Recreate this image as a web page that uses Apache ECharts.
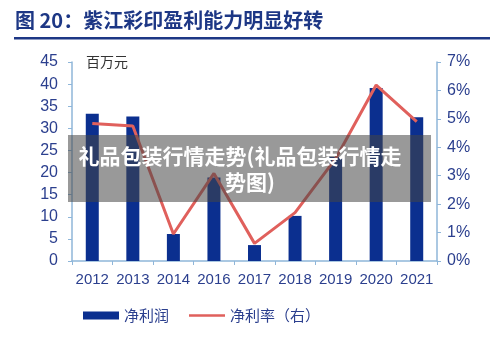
<!DOCTYPE html>
<html><head><meta charset="utf-8">
<script src="https://cdn.jsdelivr.net/npm/echarts@6/dist/echarts.min.js"></script>
<style>html,body{margin:0;padding:0;background:#fff}#c{width:500px;height:337px}</style>
</head><body><div id="c"></div>
<script>
const categories = ['2012','2013','2014','2016','2017','2018','2019','2020','2021'];
const netProfit = [33.3, 32.7, 6.1, 18.9, 3.6, 10.2, 23.5, 39.1, 32.5];
const netMargin = [4.84, 4.75, 0.95, 3.08, 0.62, 1.70, 3.6, 6.19, 4.9];
const leftTicks = {min:0, max:45, interval:5};
const rightTicks = {min:0, max:7, interval:1};

const chart = echarts.init(document.getElementById('c'));
const axisColor = '#8fb6d9';
const labelColor = '#2b3f8e';
const numFont = '"Liberation Sans", Arial, sans-serif';
chart.setOption({
  animation:false,
  textStyle:{fontFamily:'"Noto Sans CJK SC", "Liberation Sans", sans-serif'},
  grid:{left:72,right:63,top:62,bottom:76},
  legend:{
    bottom:9, left:78, itemGap:20, itemWidth:36, itemHeight:8, itemTextGap:5,
    textStyle:{color:labelColor,fontSize:15},
    data:[
      {name:'净利润',icon:'rect'},
      {name:'净利率（右）',icon:'path://M0,0 L0.01,0 L0,0 Z M0,2.8 L36,2.8 L36,5.2 L0,5.2 Z M0,8 L0.01,8 L0,8 Z'}
    ]
  },
  xAxis:{
    type:'category', data:categories,
    axisLine:{lineStyle:{color:axisColor,width:1.5}},
    axisTick:{show:true,alignWithLabel:false,length:4,lineStyle:{color:axisColor}},
    axisLabel:{color:labelColor,fontSize:15,fontFamily:numFont,margin:11,interval:0,hideOverlap:false}
  },
  yAxis:[{
    type:'value', min:leftTicks.min, max:leftTicks.max, interval:leftTicks.interval,
    axisLine:{show:true,lineStyle:{color:axisColor,width:1.5}},
    axisTick:{show:true,length:4,lineStyle:{color:axisColor}},
    splitLine:{show:false},
    axisLabel:{color:labelColor,fontSize:16,fontFamily:numFont,margin:14}
  },{
    type:'value', min:rightTicks.min, max:rightTicks.max, interval:rightTicks.interval,
    position:'right',
    axisLine:{show:true,lineStyle:{color:axisColor,width:1.5}},
    axisTick:{show:true,length:4,lineStyle:{color:axisColor}},
    splitLine:{show:false},
    axisLabel:{color:labelColor,fontSize:16,fontFamily:numFont,margin:10,formatter:'{value}%'}
  }],
  series:[{
    name:'净利润', type:'bar', data:netProfit, barWidth:13,
    itemStyle:{color:'#0b2f8f'}
  },{
    name:'净利率（右）', type:'line', yAxisIndex:1, data:netMargin,
    symbol:'none', lineStyle:{color:'#e0605c',width:3}, itemStyle:{color:'#e0605c'}
  }],
  graphic:[
    {type:'text',left:15,top:10,style:{text:'图 20：紫江彩印盈利能力明显好转',fill:'#1d3785',font:'bold 20px "Noto Sans CJK SC", sans-serif'}},
    {type:'rect',shape:{x:14,y:37,width:476,height:2.5},style:{fill:'#1d3785'}},
    {type:'text',x:86,y:62,style:{text:'百万元',fill:'#333',font:'14px "Noto Sans CJK SC", sans-serif',textVerticalAlign:'middle'}},
    {type:'rect',shape:{x:68,y:135,width:363,height:67},style:{fill:'rgba(70,70,70,0.55)'},z:100},
    {type:'text',x:240,y:156,z:101,style:{text:'礼品包装行情走势(礼品包装行情走',fill:'#fff',font:'bold 21px "Noto Sans CJK SC", sans-serif',textAlign:'center',textVerticalAlign:'middle'}},
    {type:'text',x:250,y:182,z:101,style:{text:'势图)',fill:'#fff',font:'bold 21px "Noto Sans CJK SC", sans-serif',textAlign:'center',textVerticalAlign:'middle'}}
  ]
});
</script></body></html>
